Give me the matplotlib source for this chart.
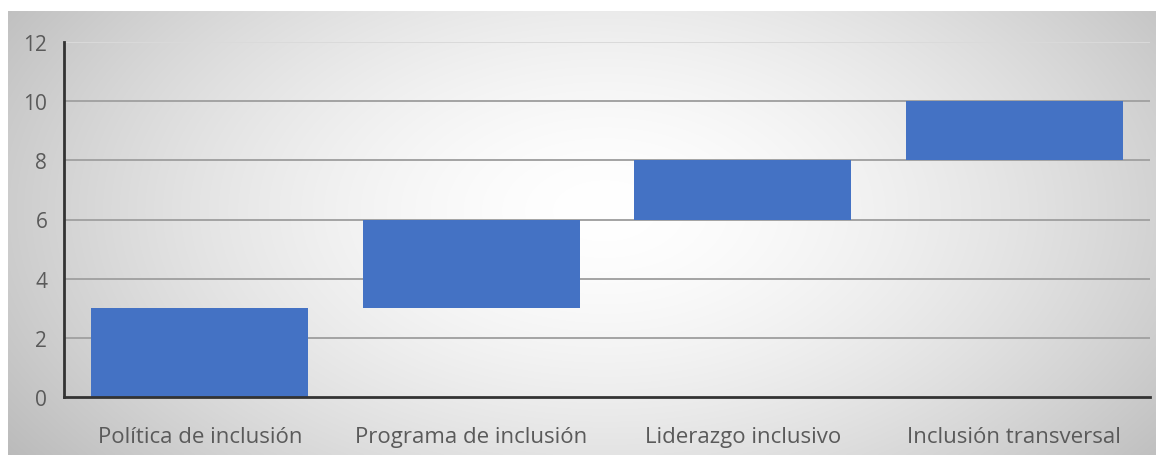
import matplotlib.pyplot as plt
import numpy as np

plt.rcParams['font.family'] = ['Open Sans', 'DejaVu Sans']

# floating bars: each stage starts where the previous one ended
categories = ['Política de inclusión', 'Programa de inclusión',
              'Liderazgo inclusivo', 'Inclusión transversal']
starts = [0, 3, 6, 8]
ends = [3, 6, 8, 10]
yticks = [0, 2, 4, 6, 8, 10, 12]

W, H = 1156, 456
fig = plt.figure(figsize=(W / 100, H / 100), dpi=100)
fig.patch.set_facecolor('white')

# radial grey gradient behind the chart
bg = fig.add_axes([8 / W, 0, (W - 8) / W, (H - 12) / H])
gx, gy = np.meshgrid(np.linspace(0, 1, 600), np.linspace(0, 1, 240))
r = np.sqrt(((gx - 0.52) / 0.62) ** 2 + ((gy - 0.45) / 0.95) ** 2)
shade = 1.0 - 0.26 * np.clip(r, 0, 1.15) ** 1.6
bg.imshow(np.dstack([shade] * 3), aspect='auto', extent=[0, 1, 0, 1],
          interpolation='bilinear')
bg.axis('off')

ax = fig.add_axes([64 / W, (H - 398) / H, (1150 - 64) / W, (398 - 43) / H])
ax.set_facecolor('none')

x = np.arange(len(categories))
heights = [e - s for s, e in zip(starts, ends)]
ax.bar(x, heights, bottom=starts, width=0.8, color='#4472C4', zorder=3)

ax.set_xlim(-0.5, len(categories) - 0.5)
ax.set_ylim(0, 12)
ax.set_yticks(yticks)
ax.set_xticks(x)
ax.set_xticklabels(categories)

for v in yticks[1:]:
    ax.axhline(v, color='#dadada' if v == 12 else '#a3a3a3', lw=1.4, zorder=1)

for side in ['top', 'right']:
    ax.spines[side].set_visible(False)
for side in ['left', 'bottom']:
    ax.spines[side].set_color('#333333')
    ax.spines[side].set_linewidth(2)
    ax.spines[side].set_zorder(4)

ax.tick_params(axis='y', length=0, pad=12, labelsize=15, labelcolor='#5a5a5a')
ax.tick_params(axis='x', length=0, pad=21, labelsize=16, labelcolor='#5a5a5a')

fig.savefig('out.png', dpi=100)
